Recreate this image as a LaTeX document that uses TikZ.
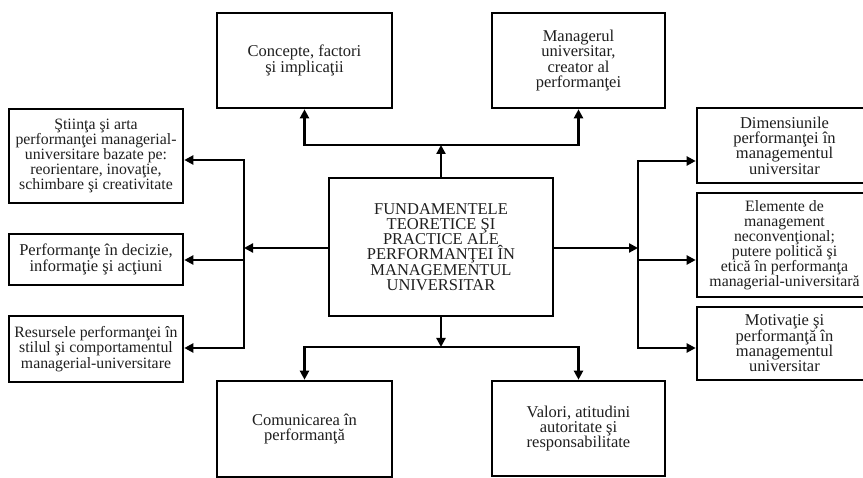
\documentclass[tikz,border=0pt]{standalone}
\usepackage{fontspec}
\setmainfont{Liberation Serif}
\usetikzlibrary{arrows.meta}

\tikzset{
  box/.style={draw=black, line width=2.6pt, fill=white, align=center,
    inner sep=0pt, font=\fontsize{16.5}{15.3}\selectfont, text=black!88},
  narrow/.style={font=\fontsize{15.8}{15.2}\selectfont},
  link/.style={line width=2.2pt, line cap=rect},
  arr/.style={link, -{Triangle[length=9pt,width=9pt]}},
}

\begin{document}
\begin{tikzpicture}[x=1pt, y=-1pt]
\useasboundingbox (0,0) rectangle (863,478);
\clip (0,0) rectangle (863,478);

% central box
\node[box, minimum width=224pt, minimum height=138pt,
      font=\fontsize{16.5}{15.2}\selectfont] (ctr) at (441,247)
  {FUNDAMENTELE\\TEORETICE ŞI\\PRACTICE ALE\\PERFORMANŢEI ÎN\\MANAGEMENTUL\\UNIVERSITAR};

% top row
\node[box, minimum width=175pt, minimum height=95pt] (top1) at (304.5,60.5)
  {Concepte, factori\\şi implicaţii};
\node[box, minimum width=173pt, minimum height=95pt] (top2) at (578.5,60.5)
  {Managerul\\universitar,\\creator al\\performanţei};

% left column
\node[box, narrow, minimum width=174pt, minimum height=94pt] (l1) at (96,156)
  {Ştiinţa şi arta\\performanţei managerial-\\universitare bazate pe:\\reorientare, inovaţie,\\schimbare şi creativitate};
\node[box, minimum width=174pt, minimum height=51pt] (l2) at (96,259.5)
  {Performanţe în decizie,\\informaţie şi acţiuni};
\node[box, narrow, minimum width=174pt, minimum height=66pt] (l3) at (96,349)
  {Resursele performanţei în\\stilul şi comportamentul\\managerial-universitare};

% right column
\node[box, minimum width=175pt, minimum height=75pt] (r1) at (784.5,145.5)
  {Dimensiunile\\performanţei în\\managementul\\universitar};
\node[box, minimum width=175pt, minimum height=104pt,
      font=\fontsize{15.8}{15}\selectfont] (r2) at (784.5,245)
  {Elemente de\\management\\neconvenţional;\\putere politică şi\\etică în performanţa\\managerial-universitară};
\node[box, minimum width=175pt, minimum height=73pt] (r3) at (784.5,343.5)
  {Motivaţie şi\\performanţă în\\managementul\\universitar};

% bottom row
\node[box, minimum width=175pt, minimum height=96pt] (b1) at (304.5,429)
  {Comunicarea în\\performanţă};
\node[box, minimum width=173pt, minimum height=95pt] (b2) at (578.5,428.5)
  {Valori, atitudini\\autoritate şi\\responsabilitate};

% junction points of the branching connectors
\coordinate (jt) at (441,145);
\coordinate (jb) at (441,347);
\coordinate (jl) at (244,248);
\coordinate (jr) at (638,248);
\coordinate (jl1) at (244,160);
\coordinate (jl2) at (244,260);
\coordinate (jl3) at (244,348);
\coordinate (jr1) at (638,161);
\coordinate (jr2) at (638,260);
\coordinate (jr3) at (638,348);

% upward branch
\draw[arr] (ctr.north) -- (jt);
\draw[arr] (jt) -| (top1.south);
\draw[arr] (jt) -| (top2.south);

% downward branch
\draw[arr] (ctr.south) -- (jb);
\draw[arr] (jb) -| (b1.north);
\draw[arr] (jb) -| (b2.north);

% left branch
\draw[arr] (ctr.west |- jl) -- (jl);
\draw[link] (jl1) -- (jl3);
\draw[arr] (jl1) -- (jl1 -| l1.east);
\draw[arr] (jl2) -- (jl2 -| l2.east);
\draw[arr] (jl3) -- (jl3 -| l3.east);

% right branch
\draw[arr] (ctr.east |- jr) -- (jr);
\draw[link] (jr1) -- (jr3);
\draw[arr] (jr1) -- (jr1 -| r1.west);
\draw[arr] (jr2) -- (jr2 -| r2.west);
\draw[arr] (jr3) -- (jr3 -| r3.west);
\end{tikzpicture}
\end{document}
